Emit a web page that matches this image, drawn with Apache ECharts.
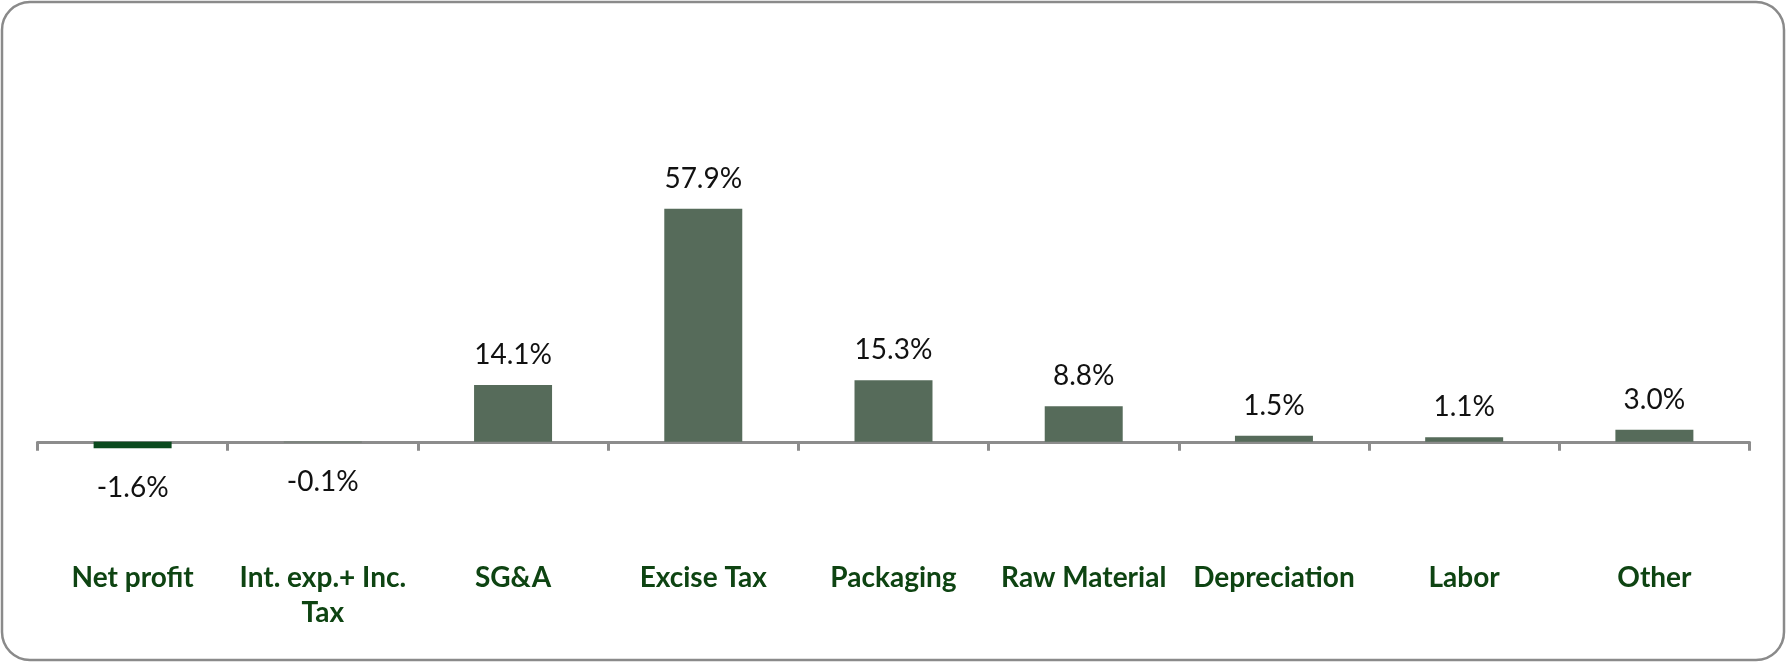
<!DOCTYPE html>
<html>
<head>
<meta charset="utf-8">
<script src="https://cdn.jsdelivr.net/npm/echarts@6/dist/echarts.min.js"></script>
<style>
html,body{margin:0;padding:0;background:#fff;}
#chart{width:1787px;height:663px;}
</style>
</head>
<body>
<div id="chart"></div>
<script>
const categories = ['Net profit', 'Int. exp.+ Inc.\nTax', 'SG&A', 'Excise Tax', 'Packaging', 'Raw Material', 'Depreciation', 'Labor', 'Other'];
const values = [-1.6, -0.1, 14.1, 57.9, 15.3, 8.8, 1.5, 1.1, 3.0];
const barColors = ['#0b4a1e', '#566b5a', '#566b5a', '#566b5a', '#566b5a', '#566b5a', '#566b5a', '#566b5a', '#566b5a'];

const chart = echarts.init(document.getElementById('chart'));
const seriesData = values.map((v, i) => ({
  value: v,
  itemStyle: { color: barColors[i] },
  label: v < 0 ? { position: 'bottom', distance: 26 } : { position: 'top', distance: 16 }
}));

chart.setOption({
  animation: false,
  graphic: [{
    type: 'rect',
    shape: { x: 2, y: 2, width: 1782, height: 658, r: 28 },
    style: { fill: 'none', stroke: '#8a8a8a', lineWidth: 2.5 },
    silent: true
  }],
  grid: { left: 37.5, right: 37.5, top: 160, height: 322, containLabel: false, outerBoundsMode: 'none' },
  xAxis: {
    type: 'category',
    data: categories,
    axisLine: { onZero: true, lineStyle: { color: '#8c8c8c', width: 3 } },
    axisTick: { show: true, length: 9, lineStyle: { color: '#8c8c8c', width: 3 } },
    axisLabel: {
      margin: 78,
      interval: 0,
      fontFamily: 'Lato',
      fontWeight: 'bold',
      fontSize: 28,
      lineHeight: 35,
      color: '#0e4412'
    }
  },
  yAxis: {
    type: 'value',
    min: -10,
    max: 70,
    show: false,
    splitLine: { show: false }
  },
  series: [{
    type: 'bar',
    data: seriesData,
    barWidth: '41%',
    label: {
      show: true,
      fontFamily: 'Lato',
      fontSize: 28,
      color: '#111',
      formatter: p => p.value.toFixed(1) + '%'
    }
  }]
});
</script>
</body>
</html>
